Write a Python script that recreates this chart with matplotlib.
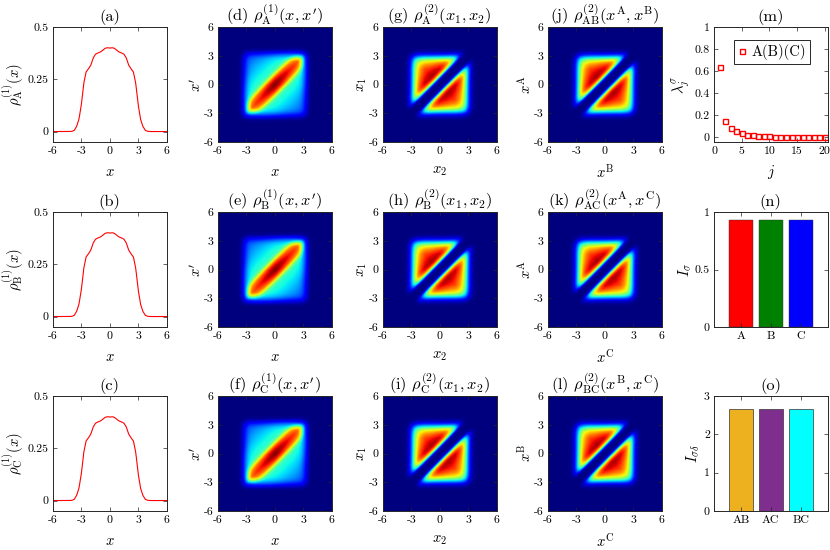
import numpy as np
import matplotlib
matplotlib.use('Agg')
import matplotlib.pyplot as plt

plt.rcParams['font.family'] = 'serif'
plt.rcParams['font.serif'] = ['cmr10']
plt.rcParams['mathtext.fontset'] = 'cm'
plt.rcParams['axes.unicode_minus'] = False

# ---------------- data ----------------
# one-body density rho^(1)(x) (a)-(c)
dens_x = [-6.0, -4.5, -4.25, -4.0, -3.75, -3.5, -3.25, -3.0, -2.75, -2.5, -2.25, -2.0,
          -1.75, -1.5, -1.25, -1.0, -0.75, -0.5, -0.25, 0.0, 0.25, 0.5, 0.75, 1.0,
          1.25, 1.5, 1.75, 2.0, 2.25, 2.5, 2.75, 3.0, 3.25, 3.5, 3.75, 4.0, 4.25, 4.5, 6.0]
dens_v = [0.0, 0.0, 0.0, 0.001, 0.006, 0.025, 0.06, 0.13, 0.23, 0.285, 0.300, 0.318,
          0.352, 0.370, 0.376, 0.380, 0.388, 0.398, 0.401, 0.399, 0.401, 0.398, 0.388, 0.380,
          0.376, 0.370, 0.352, 0.318, 0.300, 0.285, 0.23, 0.13, 0.06, 0.025, 0.006, 0.001, 0.0, 0.0, 0.0]

# rho^(1)(x,x') maps (panels d-f), relative colour levels
# support (background) profile
b1_x = [-6.0, -4.0, -3.7, -3.4, -3.1, -2.8, -2.5, -2.0, 0.0, 2.0, 2.5, 2.8, 3.1, 3.4, 3.7, 4.0, 6.0]
b1_v = [0.0, 0.0, 0.05, 0.28, 0.6, 0.84, 0.94, 0.98, 1.0, 0.98, 0.94, 0.84, 0.6, 0.28, 0.05, 0.0, 0.0]
# background level versus |x-x'|
h1_u = [0.0, 2.0, 3.0, 4.0, 5.0, 6.0, 12.0]
h1_v = [0.41, 0.40, 0.36, 0.31, 0.27, 0.25, 0.25]
# diagonal ridge profile along x and across |x-x'|
r1_x = [-6.0, -3.2, -2.95, -2.7, -2.4, -2.0, -1.5, -1.1, 0.0, 1.1, 1.5, 2.0, 2.4, 2.7, 2.95, 3.2, 6.0]
r1_v = [0.0, 0.0, 0.3, 0.65, 0.85, 0.88, 0.91, 0.94, 1.0, 0.94, 0.91, 0.88, 0.85, 0.65, 0.3, 0.0, 0.0]
w1_u = [0.0, 0.35, 0.7, 1.0, 1.25, 1.5, 1.75, 2.0, 12.0]
w1_v = [1.0, 0.92, 0.78, 0.55, 0.3, 0.12, 0.03, 0.0, 0.0]

# rho^(2) maps (panels g-l): edge profile and pair correlation versus |x1-x2|
b2_x = [-6.0, -3.9, -3.6, -3.3, -3.05, -2.84, -2.6, -2.3, -2.0, -1.6, 0.0,
        1.6, 2.0, 2.3, 2.6, 2.84, 3.05, 3.3, 3.6, 3.9, 6.0]
b2_v = [0.0, 0.0, 0.02, 0.1, 0.27, 0.47, 0.7, 0.87, 0.95, 1.0, 1.0,
        1.0, 0.95, 0.87, 0.7, 0.47, 0.27, 0.1, 0.02, 0.0, 0.0]
q2_u = [0.0, 0.45, 0.65, 0.85, 1.05, 1.25, 1.5, 1.8, 2.2, 3.0, 4.0, 5.0, 12.0]
q2_v = [0.0, 0.03, 0.12, 0.4, 0.65, 0.82, 0.93, 0.97, 0.93, 0.85, 0.78, 0.74, 0.74]
# modulation along the diagonal direction (x1+x2)/2
d2_s = [-6.0, -2.0, -1.0, 0.0, 1.0, 2.0, 6.0]
d2_v = [0.85, 0.86, 0.95, 1.0, 0.95, 0.86, 0.85]

# natural occupations lambda_j (panel m)
lam_j = list(range(1, 21))
lam_v = [0.636, 0.145, 0.083, 0.052, 0.034, 0.022, 0.015, 0.010, 0.007, 0.005,
         0.004, 0.003, 0.002, 0.002, 0.001, 0.001, 0.001, 0.001, 0.0005, 0.0005]

# entanglement measures (panels n, o)
I_single_labels = ['A', 'B', 'C']
I_single_vals = [0.927, 0.927, 0.927]
I_single_colors = ['#ff0000', '#008000', '#0000ff']
I_pair_labels = ['AB', 'AC', 'BC']
I_pair_vals = [2.67, 2.67, 2.67]
I_pair_colors = ['#edb120', '#7e2f8e', '#00ffff']

species = ['A', 'B', 'C']
pairs = [('AB', 'A', 'B'), ('AC', 'A', 'C'), ('BC', 'B', 'C')]

# ---------------- build maps ----------------
grid = np.linspace(-6, 6, 361)
n_grid = np.interp(grid, dens_x, dens_v)
X, XP = np.meshgrid(grid, grid)   # X: horizontal, XP: vertical
U = np.abs(X - XP)
S = 0.5 * (X + XP)
rho1 = (np.interp(X, b1_x, b1_v) * np.interp(XP, b1_x, b1_v) * np.interp(U, h1_u, h1_v)
        + 0.6 * np.interp(X, r1_x, r1_v) * np.interp(XP, r1_x, r1_v) * np.interp(U, w1_u, w1_v))
rho2 = (np.interp(X, b2_x, b2_v) * np.interp(XP, b2_x, b2_v)
        * np.interp(U, q2_u, q2_v) * np.interp(S, d2_s, d2_v))

# ---------------- layout ----------------
fig = plt.figure(figsize=(8.3, 5.5), dpi=100)
col_left = [53, 218, 383, 548, 714]
row_top = [27, 212, 396]
W, H = 113.5, 115

def make_ax(r, c):
    l = col_left[c] / 830
    b = (550 - row_top[r] - H) / 550
    return fig.add_axes([l, b, W / 830, H / 550])

spine_c = '#262626'
def style(ax):
    for s in ax.spines.values():
        s.set_color(spine_c)
        s.set_linewidth(0.7)
    ax.tick_params(direction='in', top=True, right=True, length=3, width=0.5,
                   color=spine_c, labelsize=8.5, pad=3)

tk = [-6, -3, 0, 3, 6]
tkl = ['-6', '-3', '0', '3', '6']
letters = 'abcdefghijklmno'
fs_lab = 10.5
fs_tit = 11.8
t_pad = 4.5

def heat(ax, data):
    ax.imshow(data, extent=[-6, 6, -6, 6], origin='lower', cmap='jet',
              aspect='auto', interpolation='bilinear', vmin=0, vmax=1.0)
    ax.set_xticks(tk, tkl)
    ax.set_yticks(tk, tkl)

for r, sp in enumerate(species):
    # density
    ax = make_ax(r, 0)
    ax.plot(grid, n_grid, color='red', lw=0.8)
    ax.set_xlim(-6, 6)
    ax.set_ylim(-0.05, 0.5)
    ax.set_xticks(tk, tkl)
    ax.set_yticks([0, 0.25, 0.5], ['0', '0.25', '0.5'])
    ax.set_title('(%s)' % letters[r], fontsize=fs_tit, pad=t_pad)
    ax.set_xlabel('$x$', fontsize=fs_lab, labelpad=7)
    ax.set_ylabel(r'$\rho^{(1)}_{\rm %s}(x)$' % sp, fontsize=fs_lab, labelpad=1)
    style(ax)

    # rho1(x,x')
    ax = make_ax(r, 1)
    heat(ax, rho1)
    ax.set_title(r"(%s) $\rho^{(1)}_{\rm %s}(x,x')$" % (letters[3 + r], sp), fontsize=fs_tit, pad=t_pad)
    ax.set_xlabel('$x$', fontsize=fs_lab, labelpad=7)
    ax.set_ylabel("$x'$", fontsize=fs_lab, labelpad=0)
    style(ax)

    # rho2(x1,x2)
    ax = make_ax(r, 2)
    heat(ax, rho2)
    ax.set_title(r"(%s) $\rho^{(2)}_{\rm %s}(x_1,x_2)$" % (letters[6 + r], sp), fontsize=fs_tit, pad=t_pad)
    ax.set_xlabel('$x_2$', fontsize=fs_lab, labelpad=6)
    ax.set_ylabel('$x_1$', fontsize=fs_lab, labelpad=0)
    style(ax)

    # inter-species rho2
    pname, s1, s2 = pairs[r]
    ax = make_ax(r, 3)
    heat(ax, rho2)
    ax.set_title(r"(%s) $\rho^{(2)}_{\rm %s}(x^{\rm %s},x^{\rm %s})$" % (letters[9 + r], pname, s1, s2),
                 fontsize=fs_tit, pad=t_pad)
    ax.set_xlabel(r'$x^{\rm %s}$' % s2, fontsize=fs_lab, labelpad=5)
    ax.set_ylabel(r'$x^{\rm %s}$' % s1, fontsize=fs_lab, labelpad=0)
    style(ax)

# (m)
ax = make_ax(0, 4)
ax.plot(lam_j, lam_v, 's', mfc='none', mec='red', ms=3.6, mew=1.0, ls='none', label='A(B)(C)')
ax.set_xlim(0, 20.5)
ax.set_ylim(-0.045, 1)
ax.set_xticks([0, 5, 10, 15, 20], ['0', '5', '10', '15', '20'])
ax.set_yticks([0, 0.2, 0.4, 0.6, 0.8, 1], ['0', '0.2', '0.4', '0.6', '0.8', '1'])
ax.set_title('(m)', fontsize=fs_tit, pad=t_pad)
ax.set_xlabel('$j$', fontsize=fs_lab, labelpad=5)
ax.set_ylabel(r'$\lambda^{\sigma}_{j}$', fontsize=fs_lab, labelpad=2)
leg = ax.legend(loc='upper right', bbox_to_anchor=(0.845, 0.885), fontsize=10.5, fancybox=False,
                edgecolor='#262626', framealpha=1, handlelength=0.6, handletextpad=0.4,
                borderpad=0.25, borderaxespad=0)
leg.get_frame().set_linewidth(0.7)
style(ax)

# (n)
ax = make_ax(1, 4)
ax.bar([1, 2, 3], I_single_vals, width=0.8, color=I_single_colors, edgecolor='#333333', linewidth=0.3)
ax.set_xlim(0.1, 3.9)
ax.set_ylim(0, 1)
ax.set_xticks([1, 2, 3], I_single_labels)
ax.set_yticks([0, 0.5, 1], ['0', '0.5', '1'])
ax.set_title('(n)', fontsize=fs_tit, pad=t_pad)
ax.set_ylabel(r'$I_{\sigma}$', fontsize=fs_lab, labelpad=1)
style(ax)

# (o)
ax = make_ax(2, 4)
ax.bar([1, 2, 3], I_pair_vals, width=0.8, color=I_pair_colors, edgecolor='#333333', linewidth=0.5)
ax.set_xlim(0.1, 3.9)
ax.set_ylim(0, 3)
ax.set_xticks([1, 2, 3], I_pair_labels)
ax.set_yticks([0, 1, 2, 3], ['0', '1', '2', '3'])
ax.set_title('(o)', fontsize=fs_tit, pad=t_pad)
ax.set_ylabel(r'$I_{\sigma\delta}$', fontsize=fs_lab, labelpad=1)
style(ax)

fig.savefig('out.png', dpi=100)
